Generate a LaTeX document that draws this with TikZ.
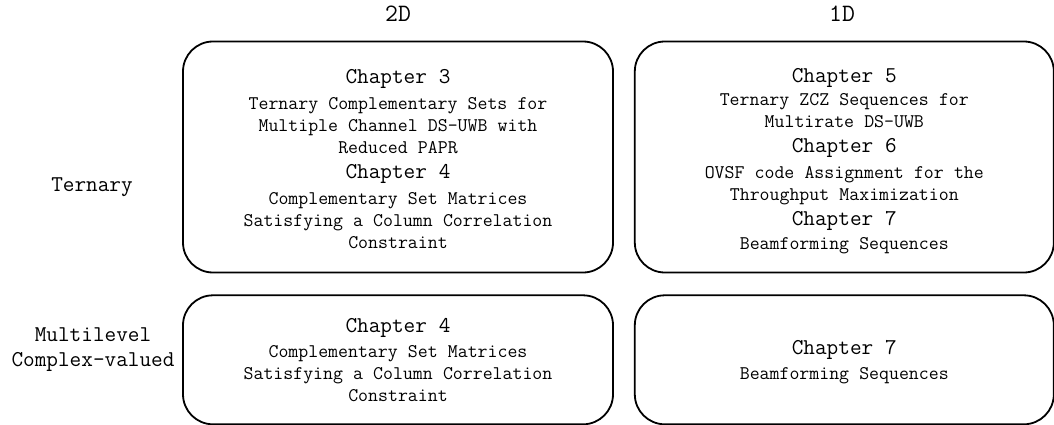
\documentclass[tikz,border=0pt]{standalone}
\usetikzlibrary{positioning}

\newcommand{\chapfont}{\fontsize{22.6}{25}\ttfamily\spaceskip=0.525em\relax}
\newcommand{\descfont}{\fontsize{19.3}{22}\ttfamily\spaceskip=0.525em\relax}

\begin{document}
\begin{tikzpicture}[
    x = 1pt, y = -1pt,
    panel/.style={rectangle, draw, line width=1.8pt, rounded corners=30pt},
    panelwide/.style={panel, minimum width=430pt},
    panelnarrow/.style={panel, minimum width=419pt},
    paneltall/.style={minimum height=231pt},
    panelshort/.style={minimum height=129pt},
    chaptext/.style={text width=420pt, align=center, inner sep=0pt},
    rowlabel/.style={font=\chapfont, align=center},
    colhead/.style={font=\fontsize{25}{28}\ttfamily}
]
\useasboundingbox (0,0) rectangle (1054,425);

% Panels of the grid
\node[panelwide, paneltall] (tern2d) at (398,157) {};
\node[panelnarrow, paneltall] (tern1d) [right=20pt of tern2d] {};
\node[panelwide, panelshort] (multi2d) [below=21pt of tern2d] {};
\node[panelnarrow, panelshort] (multi1d) [right=20pt of multi2d] {};

% Column and row headings
\node[colhead] (hd2d) at (398,14) {2D};
\node[colhead] (hd1d) at (842,14) {1D};
\node[rowlabel] (lbltern) at (92,187) {Ternary};
\node[rowlabel] (lblmulti) at (93,350) {Multilevel\\Complex-valued};

% Chapters in each panel
\node[chaptext, yshift=-2pt] (txttern2d) at (tern2d) {%
    {\chapfont Chapter 3\par}\vskip4pt
    {\descfont Ternary Complementary Sets for\\ Multiple Channel DS-UWB with\\ Reduced PAPR\par}
    {\chapfont Chapter 4\par}\vskip4pt
    {\descfont Complementary Set Matrices\\ Satisfying a Column Correlation\\ Constraint\par}};
\node[chaptext, yshift=-4pt] (txttern1d) at (tern1d) {%
    {\chapfont Chapter 5\par}\vskip1pt
    {\descfont Ternary ZCZ Sequences for\\ Multirate DS-UWB\par}
    {\chapfont Chapter 6\par}\vskip4pt
    {\descfont OVSF code Assignment for the\\ Throughput Maximization\par}
    {\chapfont Chapter 7\par}\vskip2pt
    {\descfont Beamforming Sequences\par}};
\node[chaptext] (txtmulti2d) at (multi2d) {%
    {\chapfont Chapter 4\par}\vskip3pt
    {\descfont Complementary Set Matrices\\ Satisfying a Column Correlation\\ Constraint\par}};
\node[chaptext, yshift=-2pt] (txtmulti1d) at (multi1d) {%
    {\chapfont Chapter 7\par}\vskip3pt
    {\descfont Beamforming Sequences\par}};

\end{tikzpicture}
\end{document}
